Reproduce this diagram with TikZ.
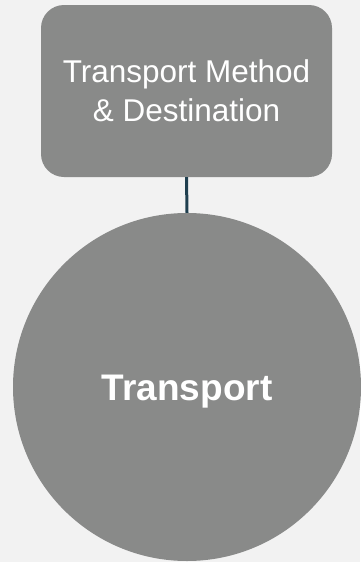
\documentclass[tikz,border=0pt]{standalone}
\usepackage{fontspec}
\setmainfont{Liberation Sans}
\definecolor{bgc}{HTML}{F2F2F2}
\definecolor{shapec}{HTML}{898A89}
\definecolor{linkc}{HTML}{1F3F4F}
\begin{document}
\begin{tikzpicture}[x=1pt,y=-1pt,
  boxnode/.style={fill=shapec, rounded corners=23pt, minimum width=291pt, minimum height=172pt, inner sep=0pt, text=white, align=center, text height=61pt, text depth=0pt, font=\fontsize{31.5}{39}\selectfont},
  circnode/.style={circle, fill=shapec, minimum size=348pt, inner sep=0pt, text=white, text height=27pt, text depth=0pt, font=\fontsize{37}{44}\selectfont\bfseries},
  linkline/.style={draw=linkc, line width=3pt}]
\fill[bgc] (0,0) rectangle (360,562);
\useasboundingbox (0,0) rectangle (360,562);
\node[boxnode] (box) at (186.5,91) {Transport Method\\\& Destination};
\node[circnode] (circ) at (187,387) {Transport};
\draw[linkline] (box.south) -- (circ.north);
\end{tikzpicture}
\end{document}
